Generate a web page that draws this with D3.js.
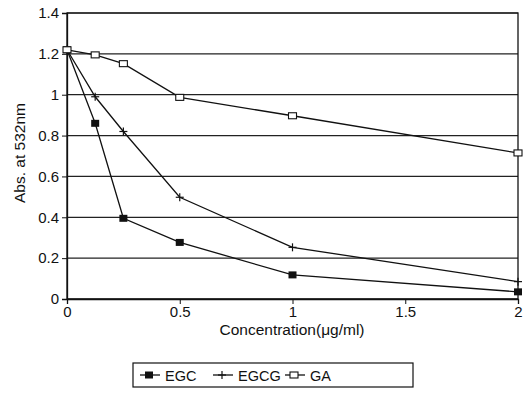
<!DOCTYPE html>
<html>
<head>
<meta charset="utf-8">
<script src="https://cdn.jsdelivr.net/npm/d3@7"></script>
<style>
  body { margin: 0; background: #fff; }
  text { font-family: "Liberation Sans", Arial, sans-serif; fill: #111; }
</style>
</head>
<body>
<svg id="chart" width="523" height="396"></svg>
<script>
// concentration (µg/ml)
const concentrations = [0, 0.125, 0.25, 0.5, 1, 2];
const egc  = [1.22, 0.86, 0.395, 0.277, 0.118, 0.035];
const egcg = [1.22, 0.99, 0.82, 0.498, 0.253, 0.085];
const ga   = [1.22, 1.195, 1.152, 0.987, 0.897, 0.715];
const seriesNames = ["EGC", "EGCG", "GA"];
const xTicks = [0, 0.5, 1, 1.5, 2];
const yTicks = [0, 0.2, 0.4, 0.6, 0.8, 1, 1.2, 1.4];

const svg = d3.select("#chart");
const plotL = 67, plotR = 518, plotT = 13, plotB = 299;

const x = d3.scaleLinear().domain([0, 2]).range([plotL, plotR]);
const y = d3.scaleLinear().domain([0, 1.4]).range([plotB, plotT]);

// gridlines
svg.append("g")
  .selectAll("line")
  .data(yTicks)
  .enter()
  .append("line")
  .attr("x1", plotL).attr("x2", plotR)
  .attr("y1", d => y(d)).attr("y2", d => y(d))
  .attr("stroke", "#222").attr("stroke-width", 1.2);

// frame
svg.append("rect")
  .attr("x", plotL).attr("y", plotT)
  .attr("width", plotR - plotL).attr("height", plotB - plotT)
  .attr("fill", "none").attr("stroke", "#111").attr("stroke-width", 1.3);

// y axis
const yAxis = svg.append("g")
  .attr("transform", "translate(" + plotL + ",0)")
  .call(d3.axisLeft(y).tickValues(yTicks).tickSize(5).tickPadding(3).tickFormat(d3.format("")));
yAxis.select(".domain").attr("stroke", "#111").attr("stroke-width", 1.3);
yAxis.selectAll("line").attr("stroke", "#111");
yAxis.selectAll("text").style("font-size", "15px").style("font-family", "Liberation Sans, Arial, sans-serif");

// x axis
const xAxis = svg.append("g")
  .attr("transform", "translate(0," + plotB + ")")
  .call(d3.axisBottom(x).tickValues(xTicks).tickSize(5).tickPadding(2).tickFormat(d3.format("")));
xAxis.select(".domain").attr("stroke", "#111").attr("stroke-width", 1.3);
xAxis.selectAll("line").attr("stroke", "#111");
xAxis.selectAll("text").style("font-size", "15px").style("font-family", "Liberation Sans, Arial, sans-serif");

// axis titles
svg.append("text")
  .attr("x", 292).attr("y", 335)
  .attr("text-anchor", "middle")
  .style("font-size", "15.5px")
  .text("Concentration(\u03bcg/ml)");

svg.append("text")
  .attr("transform", "translate(25,153) rotate(-90)")
  .attr("text-anchor", "middle")
  .style("font-size", "15.5px")
  .text("Abs. at 532nm");

// series
const line = d3.line().x(d => x(d[0])).y(d => y(d[1]));
const allSeries = [egc, egcg, ga].map(vals => concentrations.map((c, i) => [c, vals[i]]));

function drawMarker(g, kind, cx, cy) {
  if (kind === 0) {
    g.append("rect").attr("x", cx - 4).attr("y", cy - 3.5).attr("width", 8).attr("height", 7)
      .attr("fill", "#111");
  } else if (kind === 1) {
    g.append("line").attr("x1", cx - 4).attr("x2", cx + 4).attr("y1", cy).attr("y2", cy)
      .attr("stroke", "#111").attr("stroke-width", 1.2);
    g.append("line").attr("x1", cx).attr("x2", cx).attr("y1", cy - 4).attr("y2", cy + 4)
      .attr("stroke", "#111").attr("stroke-width", 1.2);
  } else {
    g.append("rect").attr("x", cx - 4).attr("y", cy - 3).attr("width", 8).attr("height", 6)
      .attr("fill", "#fff").attr("stroke", "#111").attr("stroke-width", 1.1);
  }
}

allSeries.forEach(pts => {
  svg.append("path")
    .datum(pts)
    .attr("d", line)
    .attr("fill", "none")
    .attr("stroke", "#111")
    .attr("stroke-width", 1.3);
});
allSeries.forEach((pts, k) => {
  const g = svg.append("g");
  pts.forEach(p => drawMarker(g, k, x(p[0]), y(p[1])));
});

// legend
const legend = svg.append("g");
legend.append("rect")
  .attr("x", 133).attr("y", 363).attr("width", 280).attr("height", 24)
  .attr("fill", "none").attr("stroke", "#111").attr("stroke-width", 1.2);
const legendX = [140, 213, 285];
seriesNames.forEach((name, k) => {
  const lx = legendX[k], ly = 375;
  legend.append("line")
    .attr("x1", lx).attr("x2", lx + 20).attr("y1", ly).attr("y2", ly)
    .attr("stroke", "#111").attr("stroke-width", 1.3);
  drawMarker(legend, k, lx + 9, ly);
  legend.append("text")
    .attr("x", lx + 25).attr("y", ly + 5.5)
    .style("font-size", "14.5px")
    .text(name);
});
</script>
</body>
</html>
